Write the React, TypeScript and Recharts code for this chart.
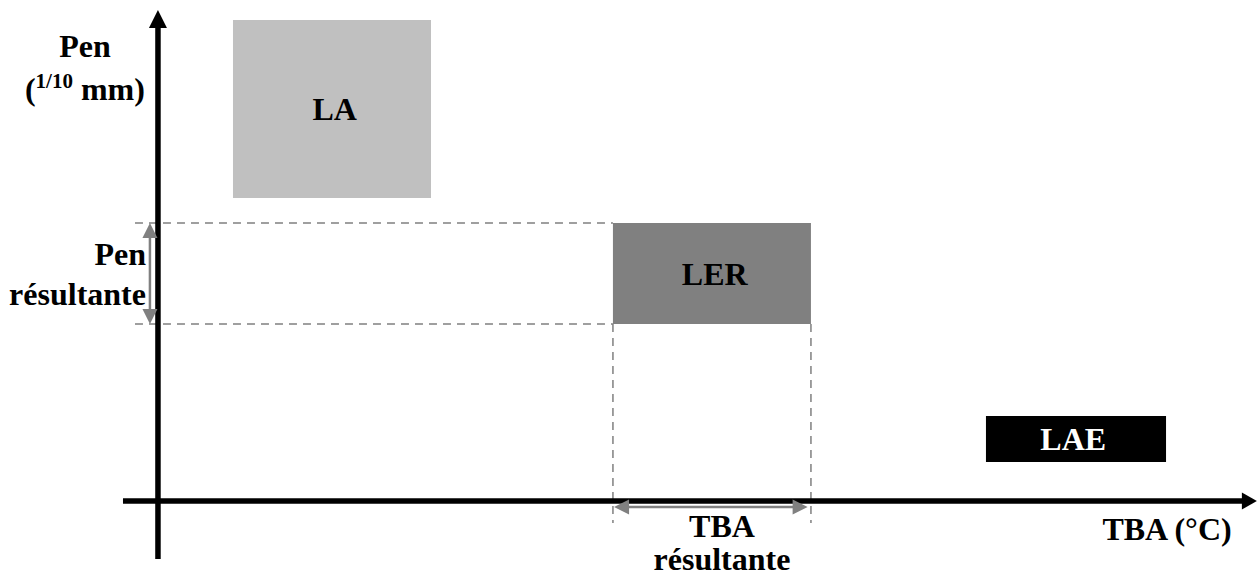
import React from 'react';
import { ComposedChart, XAxis, YAxis, ReferenceArea, ReferenceLine, ReferenceDot } from 'recharts';

// Schematic: TBA (x, arbitrary units) vs Pen (y, arbitrary units)
const zoneNames = ['LA', 'LER', 'LAE'];
const zoneTba = [[6.82, 24.82], [41.36, 59.36], [75.27, 91.64]];
const zonePen = [[60.6, 96.2], [35.4, 55.6], [7.8, 17.0]];

const xDomain = [-14.36, 100];
const yDomain = [-16.6, 100.2];
const xAxisExtent = [-3.18, 99.9];
const yAxisExtent = [-11.6, 98.2];

const zoneFill = ['#c0c0c0', '#808080', '#000000'];
const zoneInk = ['#000000', '#000000', '#ffffff'];
const FONT = "'Liberation Serif', 'Times New Roman', Times, serif";
const GREY = '#808080';

const arrowShape = (color: string, width: number, head: number, spread: number, both: boolean) => (p: any) => {
  const { x1, y1, x2, y2 } = p;
  const len = Math.hypot(x2 - x1, y2 - y1) || 1;
  const ux = (x2 - x1) / len;
  const uy = (y2 - y1) / len;
  const tri = (tx: number, ty: number, sx: number, sy: number) => {
    const bx = tx - sx * head;
    const by = ty - sy * head;
    const h = spread / 2;
    return `${tx},${ty} ${bx - sy * h},${by + sx * h} ${bx + sy * h},${by - sx * h}`;
  };
  const sx1 = both ? x1 + ux * (head - 1) : x1;
  const sy1 = both ? y1 + uy * (head - 1) : y1;
  return (
    <g>
      <line x1={sx1} y1={sy1} x2={x2 - ux * (head - 1)} y2={y2 - uy * (head - 1)} stroke={color} strokeWidth={width} />
      <polygon points={tri(x2, y2, ux, uy)} fill={color} />
      {both && <polygon points={tri(x1, y1, -ux, -uy)} fill={color} />}
    </g>
  );
};

const textShape = (lines: any, anchor: string, fill = '#000', dy = 0) => (p: any) => (
  <text
    x={p.cx}
    y={p.cy}
    dy={dy}
    textAnchor={anchor}
    fill={fill}
    style={{ fontFamily: FONT, fontWeight: 700, fontSize: 32 }}
  >
    {lines}
  </text>
);

export default function App() {
  const ler = 1;
  const [lerX1, lerX2] = zoneTba[ler];
  const [lerY1, lerY2] = zonePen[ler];

  return (
    <div style={{ width: 1258, height: 584 }}>
      <style>{'body{margin:0}'}</style>
      <ComposedChart width={1258} height={584} data={[]} margin={{ top: 0, right: 0, bottom: 0, left: 0 }}>
        <XAxis type="number" dataKey="x" domain={xDomain} allowDataOverflow hide />
        <YAxis type="number" dataKey="y" domain={yDomain} allowDataOverflow hide />

        {zoneNames.map((name, i) => (
          <ReferenceArea
            key={name}
            x1={zoneTba[i][0]}
            x2={zoneTba[i][1]}
            y1={zonePen[i][0]}
            y2={zonePen[i][1]}
            fill={zoneFill[i]}
            fillOpacity={1}
            stroke="none"
          />
        ))}

        {/* dashed projections of LER */}
        <ReferenceLine segment={[{ x: -2.09, y: lerY2 }, { x: lerX1, y: lerY2 }]} stroke={GREY} strokeWidth={1.5} strokeDasharray="8 6" />
        <ReferenceLine segment={[{ x: -2.09, y: lerY1 }, { x: lerX1, y: lerY1 }]} stroke={GREY} strokeWidth={1.5} strokeDasharray="8 6" />
        <ReferenceLine segment={[{ x: lerX1, y: lerY1 }, { x: lerX1, y: -4.4 }]} stroke={GREY} strokeWidth={1.5} strokeDasharray="8 6" />
        <ReferenceLine segment={[{ x: lerX2, y: lerY1 }, { x: lerX2, y: -4.4 }]} stroke={GREY} strokeWidth={1.5} strokeDasharray="8 6" />

        {/* axes */}
        <ReferenceLine segment={[{ x: 0, y: yAxisExtent[0] }, { x: 0, y: yAxisExtent[1] }]} shape={arrowShape('#000', 5.5, 18, 18, false)} />
        <ReferenceLine segment={[{ x: xAxisExtent[0], y: 0 }, { x: xAxisExtent[1], y: 0 }]} shape={arrowShape('#000', 5.5, 15, 17, false)} />

        {/* resulting ranges */}
        <ReferenceLine segment={[{ x: -0.73, y: lerY2 }, { x: -0.73, y: lerY1 }]} shape={arrowShape(GREY, 2.5, 15, 15, true)} />
        <ReferenceLine segment={[{ x: lerX1 + 0.1, y: -1.2 }, { x: lerX2 - 0.3, y: -1.2 }]} shape={arrowShape(GREY, 2.5, 15, 15, true)} />

        {/* zone labels */}
        {zoneNames.map((name, i) => (
          <ReferenceDot
            key={'t' + name}
            x={(zoneTba[i][0] + zoneTba[i][1]) / 2 + (i === 2 ? -0.25 : 0.25)}
            y={(zonePen[i][0] + zonePen[i][1]) / 2}
            r={0}
            shape={textShape(name, 'middle', zoneInk[i], 11)}
          />
        ))}

        {/* axis titles */}
        <ReferenceDot x={-6.64} y={88.8} r={0} shape={textShape('Pen', 'middle')} />
        <ReferenceDot
          x={-6.64}
          y={80.2}
          r={0}
          shape={textShape(
            [
              '(',
              <tspan key="s" style={{ fontSize: 21 }} dy={-12}>1/10</tspan>,
              <tspan key="m" dy={12}> mm)</tspan>,
            ],
            'middle'
          )}
        />
        <ReferenceDot x={91.73} y={-7.8} r={0} shape={textShape('TBA (°C)', 'middle')} />

        <ReferenceDot x={-1.09} y={47.2} r={0} shape={textShape('Pen', 'end')} />
        <ReferenceDot x={-1.09} y={39.2} r={0} shape={textShape('résultante', 'end')} />
        <ReferenceDot x={51.27} y={-7.2} r={0} shape={textShape('TBA', 'middle')} />
        <ReferenceDot x={51.27} y={-13.8} r={0} shape={textShape('résultante', 'middle')} />
      </ComposedChart>
    </div>
  );
}
